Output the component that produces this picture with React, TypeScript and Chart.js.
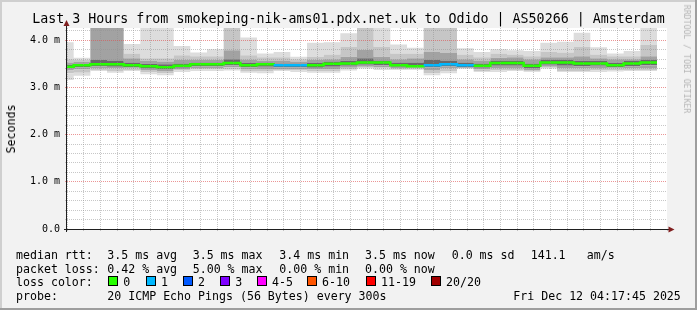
import React, { useEffect, useRef } from "react";
import { Chart, registerables } from "chart.js";

Chart.register(...registerables);

// ---------------- data ----------------
const columnStarts = [
  "01:15", "01:20", "01:25", "01:30", "01:35", "01:40", "01:45", "01:50", "01:55",
  "02:00", "02:05", "02:10", "02:15", "02:20", "02:25", "02:30", "02:35", "02:40", "02:45", "02:50", "02:55",
  "03:00", "03:05", "03:10", "03:15", "03:20", "03:25", "03:30", "03:35", "03:40", "03:45", "03:50", "03:55",
  "04:00", "04:05", "04:10",
];
const columnEnd = "04:15";
const viewStart = "01:18";
const viewEnd = "04:18";

// smoke (sorted ping rtt levels, ms) and median rtt per 5-minute column
const pingMin = [3.16, 3.25, 3.35, 3.31, 3.35, 3.28, 3.26, 3.33, 3.35, 3.35, 3.36, 3.31, 3.30, 3.35, 3.33, 3.31, 3.31, 3.36, 3.40, 3.37, 3.37, 3.37, 3.26, 3.30, 3.40, 3.33, 3.33, 3.35, 3.33, 3.40, 3.33, 3.33, 3.33, 3.34, 3.35, 3.35];
const pingLo3 = [3.30, 3.31, 3.37, 3.35, 3.37, 3.32, 3.30, 3.36, 3.38, 3.38, 3.39, 3.35, 3.34, 3.37, 3.36, 3.34, 3.34, 3.38, 3.42, 3.40, 3.39, 3.38, 3.30, 3.34, 3.40, 3.35, 3.36, 3.37, 3.34, 3.42, 3.35, 3.35, 3.36, 3.36, 3.37, 3.37];
const pingLo2 = [3.36, 3.38, 3.41, 3.40, 3.40, 3.37, 3.35, 3.39, 3.41, 3.41, 3.43, 3.39, 3.39, 3.39, 3.39, 3.38, 3.38, 3.42, 3.44, 3.43, 3.41, 3.40, 3.37, 3.40, 3.41, 3.38, 3.40, 3.41, 3.36, 3.44, 3.40, 3.40, 3.41, 3.40, 3.40, 3.41];
const pingLo1 = [3.41, 3.43, 3.45, 3.44, 3.43, 3.41, 3.39, 3.42, 3.45, 3.45, 3.47, 3.43, 3.44, 3.43, 3.43, 3.42, 3.44, 3.46, 3.48, 3.47, 3.44, 3.43, 3.43, 3.45, 3.43, 3.42, 3.46, 3.46, 3.40, 3.48, 3.46, 3.45, 3.46, 3.43, 3.45, 3.47];
const medianRtt = [3.44, 3.47, 3.49, 3.49, 3.47, 3.45, 3.43, 3.46, 3.49, 3.49, 3.52, 3.47, 3.49, 3.47, 3.47, 3.47, 3.50, 3.51, 3.53, 3.53, 3.47, 3.45, 3.47, 3.49, 3.47, 3.46, 3.52, 3.52, 3.46, 3.53, 3.53, 3.51, 3.51, 3.47, 3.51, 3.53];
const pingHi1 = [3.48, 3.50, 3.58, 3.57, 3.53, 3.50, 3.49, 3.51, 3.53, 3.53, 3.60, 3.52, 3.53, 3.51, 3.51, 3.52, 3.55, 3.56, 3.62, 3.57, 3.53, 3.53, 3.58, 3.57, 3.53, 3.51, 3.57, 3.57, 3.51, 3.58, 3.58, 3.56, 3.56, 3.52, 3.56, 3.58];
const pingHi2 = [3.53, 3.54, 4.26, 4.26, 3.62, 3.56, 3.55, 3.58, 3.58, 3.58, 3.79, 3.59, 3.57, 3.57, 3.55, 3.58, 3.60, 3.65, 3.80, 3.65, 3.60, 3.62, 3.75, 3.73, 3.60, 3.57, 3.63, 3.64, 3.60, 3.64, 3.64, 3.66, 3.62, 3.60, 3.60, 3.66];
const pingHi3 = [3.60, 3.58, 4.26, 4.26, 3.72, 3.62, 3.62, 3.68, 3.66, 3.66, 4.26, 3.68, 3.64, 3.64, 3.60, 3.65, 3.70, 3.86, 4.26, 3.86, 3.72, 3.72, 4.26, 4.26, 3.70, 3.64, 3.72, 3.70, 3.66, 3.75, 3.74, 3.86, 3.70, 3.66, 3.66, 3.90];
const pingMax = [3.96, 3.63, 4.26, 4.26, 3.92, 4.26, 4.26, 3.88, 3.74, 3.81, 4.26, 4.06, 3.72, 3.75, 3.65, 3.95, 3.96, 4.15, 4.26, 4.26, 3.91, 3.84, 4.26, 4.26, 3.83, 3.75, 3.81, 3.79, 3.77, 3.95, 3.97, 4.16, 3.85, 3.72, 3.77, 4.26];
const lostPings = [0, 0, 0, 0, 0, 0, 0, 0, 0, 0, 0, 0, 0, 1, 1, 0, 0, 0, 0, 0, 0, 0, 1, 1, 1, 0, 0, 0, 0, 0, 0, 0, 0, 0, 0, 0];

const yAxisMax = 4.26;
const yMinorStep = 0.2;
const xMinorStep = 5;
const xLabelEvery = 20;

// texts
const titleText = "Last 3 Hours from smokeping-nik-ams01.pdx.net.uk to Odido | AS50266 | Amsterdam";
const yAxisTitle = "Seconds";
const watermarkText = "RRDTOOL / TOBI OETIKER";
const rttLabel = "median rtt:";
const rttStats = ["3.5 ms avg", "3.5 ms max", "3.4 ms min", "3.5 ms now", "0.0 ms sd", "141.1", "am/s"];
const lossLabel = "packet loss:";
const lossStats = ["0.42 % avg", "5.00 % max", "0.00 % min", "0.00 % now"];
const lossColorLabel = "loss color:";
const lossBins = ["0", "1", "2", "3", "4-5", "6-10", "11-19", "20/20"];
const lossBinColors = ["#26ff00", "#00b8ff", "#0059ff", "#7e00ff", "#ff00ff", "#ff5500", "#ff0000", "#a10000"];
const probeLabel = "probe:";
const probeText = "20 ICMP Echo Pings (56 Bytes) every 300s";
const stampText = "Fri Dec 12 04:17:45 2025";

// ---------------- layout / style ----------------
const MONO = "'DejaVu Sans Mono', monospace";
const STAT_X = [107.3, 192.7, 279.3, 365, 451.7, 530.7, 586.7];
const SWATCH_X = [108, 145.7, 182.7, 220, 256.7, 306.7, 365.7, 430.7];
const ROW_TOP = [247.5, 261.5, 275, 289];
const BAND_COLORS = ["", "#dddddd", "#c6c6c6", "#a2a2a2", "#6a6a6a", "#6a6a6a", "#a2a2a2", "#c6c6c6", "#dddddd"];
const GRID_MINOR = "rgba(143,143,143,0.5)";
const GRID_MAJOR = "rgba(222,79,79,0.6)";

const toMin = (s: string) => {
  const [h, m] = s.split(":").map(Number);
  return h * 60 + m;
};
const fmtTime = (v: number) =>
  `${String(Math.floor(v / 60)).padStart(2, "0")}:${String(Math.round(v % 60)).padStart(2, "0")}`;
const binIndex = (n: number) => (n <= 3 ? n : n <= 5 ? 4 : n <= 10 ? 5 : n <= 19 ? 6 : 7);
const isMajorY = (v: number) => Math.abs(v - Math.round(v)) < 1e-6;
const isMajorX = (v: number) => Math.abs(v % xLabelEvery) < 1e-6;

const bgPlugin = {
  id: "canvasBg",
  beforeDraw(chart: any) {
    const { ctx, chartArea: a } = chart;
    ctx.save();
    ctx.fillStyle = "#ffffff";
    ctx.fillRect(a.left, a.top, a.right - a.left, a.bottom - a.top);
    ctx.restore();
  },
};

// dotted rrdtool-style grid drawn over the smoke, at the scales' own ticks
const gridPlugin = {
  id: "rrdGrid",
  afterDatasetsDraw(chart: any) {
    const { ctx, chartArea: a, scales } = chart;
    const xs = scales.x;
    const ys = scales.y;
    ctx.save();
    ctx.lineWidth = 1;
    ctx.setLineDash([1, 1]);
    for (const t of xs.ticks) {
      const px = Math.round(xs.getPixelForValue(t.value) - 0.5) + 0.5;
      if (px <= a.left || px >= a.right) continue;
      ctx.strokeStyle = isMajorX(t.value) ? GRID_MAJOR : GRID_MINOR;
      ctx.beginPath();
      ctx.moveTo(px, a.bottom);
      ctx.lineTo(px, a.top);
      ctx.stroke();
    }
    for (const t of ys.ticks) {
      const py = Math.round(ys.getPixelForValue(t.value) - 0.5) + 0.5;
      if (py <= a.top || py >= a.bottom) continue;
      ctx.strokeStyle = isMajorY(t.value) ? GRID_MAJOR : GRID_MINOR;
      ctx.beginPath();
      ctx.moveTo(a.left, py);
      ctx.lineTo(a.right, py);
      ctx.stroke();
    }
    ctx.restore();
  },
};

const axisPlugin = {
  id: "rrdAxes",
  afterDraw(chart: any) {
    const { ctx, chartArea: a } = chart;
    ctx.save();
    ctx.strokeStyle = "#1f1f1f";
    ctx.lineWidth = 1;
    ctx.setLineDash([]);
    ctx.beginPath();
    ctx.moveTo(a.left - 0.5, a.bottom + 3);
    ctx.lineTo(a.left - 0.5, a.top - 3);
    ctx.moveTo(a.left - 3, a.bottom + 0.5);
    ctx.lineTo(a.right + 3, a.bottom + 0.5);
    ctx.stroke();
    ctx.fillStyle = "#801f1f";
    ctx.beginPath();
    ctx.moveTo(a.left - 3.5, a.top - 2);
    ctx.lineTo(a.left + 2.5, a.top - 2);
    ctx.lineTo(a.left - 0.5, a.top - 8);
    ctx.closePath();
    ctx.fill();
    ctx.beginPath();
    ctx.moveTo(a.right + 1.5, a.bottom - 2.5);
    ctx.lineTo(a.right + 1.5, a.bottom + 3.5);
    ctx.lineTo(a.right + 7.5, a.bottom + 0.5);
    ctx.closePath();
    ctx.fill();
    ctx.restore();
  },
};

function SmokeChart() {
  const ref = useRef<HTMLCanvasElement | null>(null);

  useEffect(() => {
    if (!ref.current) return;
    const xs = [...columnStarts, columnEnd].map(toMin);
    const stepSeries = (vals: number[]) =>
      xs.map((x, i) => ({ x, y: vals[Math.min(i, vals.length - 1)] }));
    const edges = [pingMin, pingLo3, pingLo2, pingLo1, medianRtt, pingHi1, pingHi2, pingHi3, pingMax];

    const datasets: any[] = edges.map((vals, i) => ({
      type: "line",
      data: stepSeries(vals),
      stepped: true,
      borderWidth: 0,
      borderColor: "rgba(0,0,0,0)",
      backgroundColor: i === 0 ? "rgba(0,0,0,0)" : BAND_COLORS[i],
      pointRadius: 0,
      fill: i === 0 ? false : "-1",
      clip: 0,
      order: 1,
    }));
    datasets.push({
      type: "line",
      data: stepSeries(medianRtt),
      stepped: true,
      borderWidth: 2.5,
      borderColor: lossBinColors[0],
      segment: {
        borderColor: (c: any) =>
          lossBinColors[binIndex(lostPings[Math.min(c.p0DataIndex, lostPings.length - 1)])],
      },
      pointRadius: 0,
      fill: false,
      clip: 0,
      order: -1,
    });

    const gridY = (c: any) => (c.tick && isMajorY(c.tick.value) ? GRID_MAJOR : GRID_MINOR);
    const gridX = (c: any) => (c.tick && isMajorX(c.tick.value) ? GRID_MAJOR : GRID_MINOR);

    const chart = new Chart(ref.current, {
      type: "line",
      data: { datasets },
      options: {
        responsive: false,
        animation: false,
        events: [],
        layout: { padding: { left: 0, top: 28, right: 30, bottom: 0 } },
        plugins: {
          legend: { display: false },
          tooltip: { enabled: false },
          title: { display: false },
        },
        scales: {
          x: {
            type: "linear",
            min: toMin(viewStart),
            max: toMin(viewEnd),
            afterFit: (s: any) => {
              s.height = 81;
            },
            grid: { drawOnChartArea: false, tickColor: gridX, tickLength: 2, drawTicks: true },
            border: { display: false },
            ticks: {
              stepSize: xMinorStep,
              includeBounds: false,
              autoSkip: false,
              maxTicksLimit: 200,
              maxRotation: 0,
              minRotation: 0,
              padding: 2,
              color: "#000",
              font: { family: MONO, size: 10 },
              callback: (v: any) => (isMajorX(Number(v)) ? fmtTime(Number(v)) : ""),
            },
          },
          y: {
            type: "linear",
            min: 0,
            max: yAxisMax,
            afterFit: (s: any) => {
              s.width = 67;
            },
            grid: { drawOnChartArea: false, tickColor: gridY, tickLength: 2, drawTicks: true },
            border: { display: false },
            ticks: {
              stepSize: yMinorStep,
              includeBounds: false,
              autoSkip: false,
              maxTicksLimit: 200,
              padding: 5,
              color: "#000",
              font: { family: MONO, size: 10 },
              callback: (v: any) => {
                const n = Number(v);
                if (!isMajorY(n)) return "";
                return n === 0 ? "0.0" : `${n.toFixed(1)} m`;
              },
            },
          },
        },
      } as any,
      plugins: [bgPlugin, gridPlugin, axisPlugin],
    });
    return () => chart.destroy();
  }, []);

  return (
    <canvas
      ref={ref}
      width={697}
      height={310}
      style={{ position: "absolute", left: 0, top: 0, width: 697, height: 310 }}
    />
  );
}

const legendText = (left: number, top: number, text: string, key?: any) => (
  <div
    key={key}
    style={{
      position: "absolute",
      left,
      top,
      fontSize: 11.6,
      lineHeight: "14px",
      whiteSpace: "pre",
    }}
  >
    {text}
  </div>
);

export default function App() {
  return (
    <div
      style={{
        position: "fixed",
        left: 0,
        top: 0,
        width: 697,
        height: 310,
        background: "#f2f2f2",
        overflow: "hidden",
        fontFamily: MONO,
        color: "#000",
      }}
    >
      {/* 3D frame */}
      <div style={{ position: "absolute", left: 0, top: 0, width: 697, height: 2, background: "#cfcfcf" }} />
      <div style={{ position: "absolute", left: 0, top: 0, width: 2, height: 310, background: "#cfcfcf" }} />
      <div style={{ position: "absolute", left: 0, top: 308, width: 697, height: 2, background: "#9e9e9e" }} />
      <div style={{ position: "absolute", left: 695, top: 0, width: 2, height: 310, background: "#9e9e9e" }} />

      <SmokeChart />

      <div
        style={{
          position: "absolute",
          left: 0,
          top: 11,
          width: 697,
          textAlign: "center",
          fontSize: 13.3,
          lineHeight: "16px",
          whiteSpace: "pre",
        }}
      >
        {titleText}
      </div>

      <div
        style={{
          position: "absolute",
          left: 10.5,
          top: 128.5,
          transform: "translate(-50%, -50%) rotate(-90deg)",
          fontSize: 11.6,
          lineHeight: "14px",
          whiteSpace: "pre",
        }}
      >
        {yAxisTitle}
      </div>

      <div
        style={{
          position: "absolute",
          left: 687,
          top: 59,
          transform: "translate(-50%, -50%) rotate(90deg)",
          fontSize: 8.2,
          lineHeight: "10px",
          whiteSpace: "pre",
          color: "#b5b5b5",
        }}
      >
        {watermarkText}
      </div>

      {legendText(16, ROW_TOP[0], rttLabel)}
      {rttStats.map((t, i) => legendText(STAT_X[i], ROW_TOP[0], t, "r" + i))}

      {legendText(16, ROW_TOP[1], lossLabel)}
      {lossStats.map((t, i) => legendText(STAT_X[i], ROW_TOP[1], t, "l" + i))}

      {legendText(16, ROW_TOP[2], lossColorLabel)}
      {lossBins.map((t, i) => (
        <React.Fragment key={"b" + i}>
          <div
            style={{
              position: "absolute",
              left: SWATCH_X[i],
              top: ROW_TOP[2] + 1,
              width: 10,
              height: 10,
              boxSizing: "border-box",
              border: "1px solid #000",
              background: lossBinColors[i],
            }}
          />
          {legendText(SWATCH_X[i] + 15.3, ROW_TOP[2], t)}
        </React.Fragment>
      ))}

      {legendText(16, ROW_TOP[3], probeLabel)}
      {legendText(STAT_X[0], ROW_TOP[3], probeText)}
      {legendText(513.3, ROW_TOP[3], stampText)}
    </div>
  );
}
